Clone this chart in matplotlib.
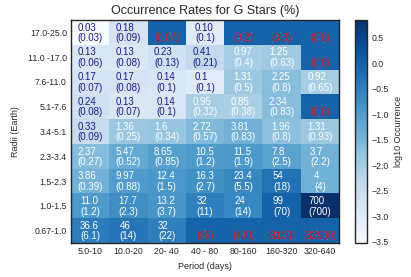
import numpy as np
import matplotlib
matplotlib.use('Agg')
import matplotlib.pyplot as plt
from matplotlib.colors import Normalize

plt.rcParams['font.family'] = ['Liberation Sans', 'DejaVu Sans']

# Bins
radius_bins = ['17.0-25.0', '11.0 -17.0', '7.6-11.0', '5.1-7.6', '3.4-5.1',
               '2.3-3.4', '1.5-2.3', '1.0-1.5', '0.67-1.0']
period_bins = ['5.0-10', '10.0-20', '20- 40', '40 - 80', '80-160', '160-320', '320-640']

# Occurrence rates (%) as printed -- '' where only an upper limit exists
rate_txt = [
    ['0.03', '0.18', '', '0.10', '', '', ''],
    ['0.13', '0.13', '0.23', '0.41', '0.97', '1.25', ''],
    ['0.17', '0.17', '0.14', '0.1', '1.31', '2.25', '0.92'],
    ['0.24', '0.13', '0.14', '0.95', '0.85', '2.34', ''],
    ['0.33', '1.36', '1.6', '2.72', '3.81', '1.96', '1.31'],
    ['2.37', '5.47', '8.65', '10.5', '11.5', '7.8', '3.7'],
    ['3.86', '9.97', '12.4', '16.3', '23.4', '54', '4'],
    ['11.0', '17.7', '13.2', '32', '24', '99', '700'],
    ['36.6', '46', '32', '', '', '', ''],
]

# Uncertainties (or upper limits for the empty cells)
err_txt = [
    ['0.03', '0.09', '0.07', '0.1', '0.2', '0.3', '0.8'],
    ['0.06', '0.08', '0.13', '0.21', '0.4', '0.63', '0.8'],
    ['0.07', '0.08', '0.1', '0.1', '0.5', '0.8', '0.65'],
    ['0.08', '0.07', '0.1', '0.32', '0.38', '0.83', '0.8'],
    ['0.09', '0.25', '0.34', '0.57', '0.83', '0.8', '0.93'],
    ['0.27', '0.52', '0.85', '1.2', '1.9', '2.5', '2.2'],
    ['0.39', '0.88', '1.5', '2.7', '5.5', '18', '4'],
    ['1.2', '2.3', '3.7', '11', '14', '70', '700'],
    ['6.1', '14', '22', '66', '400', '3100', '32900'],
]

rates = np.array([[float(v) if v else np.nan for v in row] for row in rate_txt])

log_occ = np.ma.masked_invalid(np.log10(rates / 100.0))
norm = Normalize(vmin=np.log10(0.03 / 100), vmax=np.log10(700 / 100))
cmap = plt.get_cmap('Blues').copy()
cmap.set_bad(cmap(norm(0.0)))

fig = plt.figure(figsize=(4.11, 2.77), dpi=100)
ax = fig.add_axes([71 / 411, 34 / 277, 268 / 411, 223 / 277])
cax = fig.add_axes([355 / 411, 34 / 277, 12 / 411, 223 / 277])

im = ax.imshow(log_occ, cmap=cmap, norm=norm, aspect='auto', interpolation='nearest')

for i in range(len(radius_bins)):
    for j in range(len(period_bins)):
        r = rates[i, j]
        if np.isnan(r):
            ax.text(j, i + 0.02, '\n(%s)' % err_txt[i][j], ha='center', va='center',
                    ma='left', color='#e01b22', fontsize=7, linespacing=1.05)
        else:
            c = 'white' if r >= 0.5 else '#1a1a8c'
            ax.text(j, i + 0.02, '%s\n(%s)' % (rate_txt[i][j], err_txt[i][j]),
                    ha='center', va='center', ma='left', color=c, fontsize=7,
                    linespacing=1.05)

ax.set_xticks(range(len(period_bins)))
ax.set_xticklabels(period_bins)
ax.set_yticks(range(len(radius_bins)))
ax.set_yticklabels(radius_bins)
ax.tick_params(length=0, labelsize=6.3, colors='#262626', pad=3)
for s in ax.spines.values():
    s.set_color('#262626')
    s.set_linewidth(1.0)
ax.set_xlabel('Period (days)', fontsize=6.5, color='#262626', labelpad=4)
ax.set_ylabel('Radii (Earth)', fontsize=6.5, color='#262626', labelpad=6)
ax.set_title('Occurrence Rates for G Stars (%)', fontsize=9, color='#262626', pad=4)

cb = fig.colorbar(im, cax=cax)
cb.set_ticks(np.arange(-3.5, 0.51, 0.5))
cb.ax.tick_params(length=0, labelsize=6.3, colors='#262626', pad=3)
cb.outline.set_edgecolor('#262626')
cb.outline.set_linewidth(1.0)
cb.set_label('log10 Occurrence', fontsize=6.5, color='#262626', labelpad=4)

fig.savefig('out.png', dpi=100)
